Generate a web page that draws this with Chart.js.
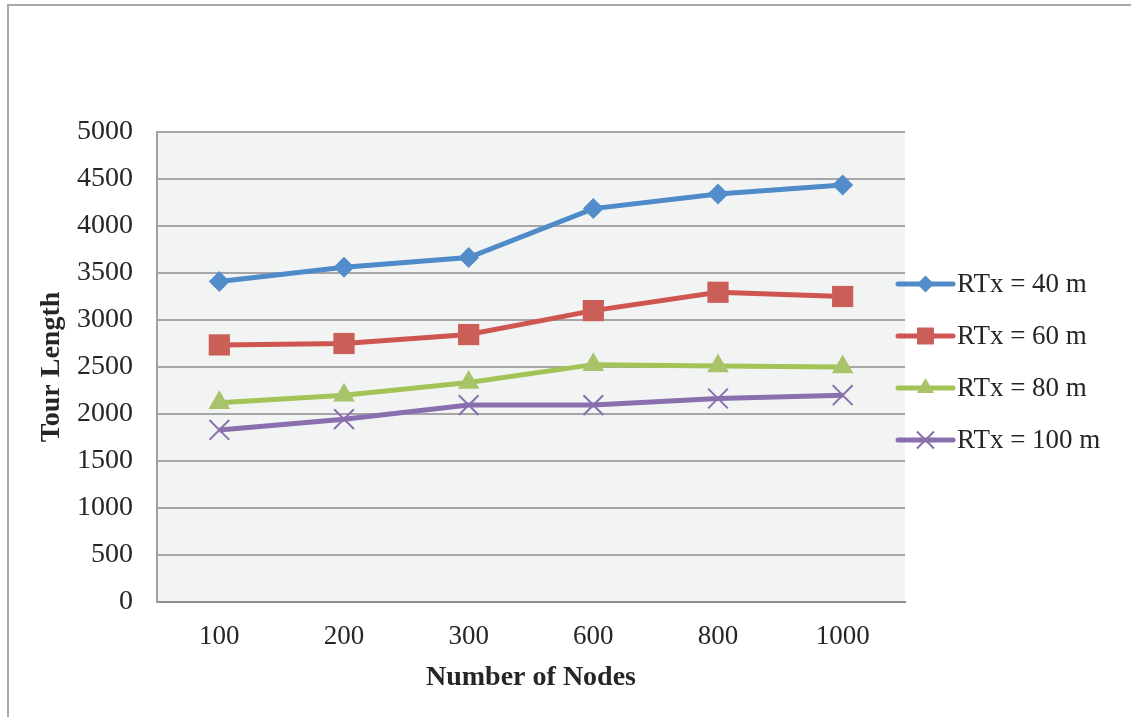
<!DOCTYPE html>
<html>
<head>
<meta charset="utf-8">
<script src="https://cdn.jsdelivr.net/npm/chart.js@4/dist/chart.umd.min.js"></script>
<style>
  html, body { margin: 0; padding: 0; background: #ffffff; }
  #frame { position: absolute; left: 7px; top: 4px; width: 1200px; height: 800px;
           border-left: 2px solid #a8a8a8; border-top: 2px solid #a8a8a8; }
  #wrap { position: absolute; left: 0; top: 0; width: 1131px; height: 717px; }
</style>
</head>
<body>
<div id="frame"></div>
<div id="wrap"><canvas id="c" width="1131" height="717"></canvas></div>
<script>
// Tour length vs. number of nodes for several transmission ranges
const categories = ['100', '200', '300', '600', '800', '1000'];
const seriesNames = ['RTx = 40 m', 'RTx = 60 m', 'RTx = 80 m', 'RTx = 100 m'];
const rtx40  = [3410, 3560, 3665, 4185, 4340, 4435];
const rtx60  = [2735, 2750, 2845, 3100, 3295, 3250];
const rtx80  = [2120, 2200, 2335, 2525, 2510, 2500];
const rtx100 = [1830, 1945, 2095, 2095, 2165, 2200];
const yTicks = [0, 500, 1000, 1500, 2000, 2500, 3000, 3500, 4000, 4500, 5000];

const FONT = "'Liberation Serif', 'DejaVu Serif', serif";
const TEXT = '#262626';

const styles = [
  { line: '#4f8ac9', point: '#528ccb', shape: 'rectRot',  r: 10.5, legendR: 8.5, bw: 0 },
  { line: '#cf5650', point: '#cb5f58', shape: 'rect',     r: 15,   legendR: 12,  bw: 0 },
  { line: '#a3c357', point: '#a8c46a', shape: 'triangle', r: 12.5, legendR: 10,  bw: 0 },
  { line: '#8a6fae', point: '#8a6fae', shape: 'crossRot', r: 14,   legendR: 12,  bw: 2 }
];
const values = [rtx40, rtx60, rtx80, rtx100];

const datasets = values.map((vals, i) => ({
  label: seriesNames[i],
  data: vals,
  borderColor: styles[i].line,
  backgroundColor: styles[i].point,
  borderWidth: 5,
  tension: 0,
  pointStyle: styles[i].shape,
  pointRadius: styles[i].r,
  pointHoverRadius: styles[i].r,
  pointBackgroundColor: styles[i].point,
  pointBorderColor: styles[i].point,
  pointBorderWidth: styles[i].bw
}));

// shaded plot background
const plotBackground = {
  id: 'plotBackground',
  beforeDraw(chart) {
    const { ctx, chartArea: a } = chart;
    ctx.save();
    ctx.fillStyle = '#f2f4f4';
    ctx.fillRect(a.left, a.top, a.right - a.left, a.bottom - a.top);
    ctx.restore();
  }
};

// legend with line + marker samples, to the right of the plot
const lineLegend = {
  id: 'lineLegend',
  afterDraw(chart) {
    const { ctx, chartArea: a } = chart;
    const x0 = a.right - 7, x1 = a.right + 48, xm = (x0 + x1) / 2;
    const yStart = 284, step = 52;
    ctx.save();
    chart.data.datasets.forEach((ds, i) => {
      const y = yStart + i * step;
      ctx.strokeStyle = ds.borderColor;
      ctx.lineWidth = 5;
      ctx.lineCap = 'round';
      ctx.beginPath();
      ctx.moveTo(x0, y);
      ctx.lineTo(x1, y);
      ctx.stroke();
      ctx.lineCap = 'butt';
      ctx.fillStyle = ds.pointBackgroundColor;
      ctx.strokeStyle = ds.pointBorderColor;
      ctx.lineWidth = ds.pointBorderWidth;
      const opts = { pointStyle: ds.pointStyle, rotation: 0, radius: styles[i].legendR, borderWidth: ds.pointBorderWidth };
      Chart.helpers.drawPoint(ctx, opts, xm, y);
      ctx.fillStyle = TEXT;
      ctx.font = "27px " + FONT;
      ctx.textAlign = 'left';
      ctx.textBaseline = 'middle';
      ctx.fillText(ds.label, x1 + 4, y + 1);
    });
    ctx.restore();
  }
};

new Chart(document.getElementById('c'), {
  type: 'line',
  data: { labels: categories, datasets },
  options: {
    responsive: false,
    animation: false,
    layout: { padding: { top: 132, right: 226, bottom: 0, left: 0 } },
    plugins: { legend: { display: false }, tooltip: { enabled: false } },
    scales: {
      x: {
        offset: true,
        grid: { display: false, drawTicks: false },
        border: { display: true, color: '#8f8f8f', width: 2 },
        ticks: { color: TEXT, font: { family: FONT, size: 27 }, padding: 19 },
        title: { display: true, text: 'Number of Nodes', color: TEXT,
                 font: { family: FONT, size: 28, weight: 'bold' }, padding: { top: 0, bottom: 22 } },
        afterFit(scale) { scale.height = 115; }
      },
      y: {
        min: 0, max: 5000,
        afterBuildTicks(scale) { scale.ticks = yTicks.map(v => ({ value: v })); },
        grid: { color: '#a6a6a6', lineWidth: 2, drawTicks: false },
        border: { display: true, color: '#a0a0a0', width: 2 },
        ticks: { color: TEXT, font: { family: FONT, size: 28 }, padding: 24,
                 callback: (v) => String(v) },
        title: { display: true, text: 'Tour Length', color: TEXT,
                 font: { family: FONT, size: 28, weight: 'bold' }, padding: { top: 35, bottom: 0 } },
        afterFit(scale) { scale.width = 157; }
      }
    }
  },
  plugins: [plotBackground, lineLegend]
});
</script>
</body>
</html>
